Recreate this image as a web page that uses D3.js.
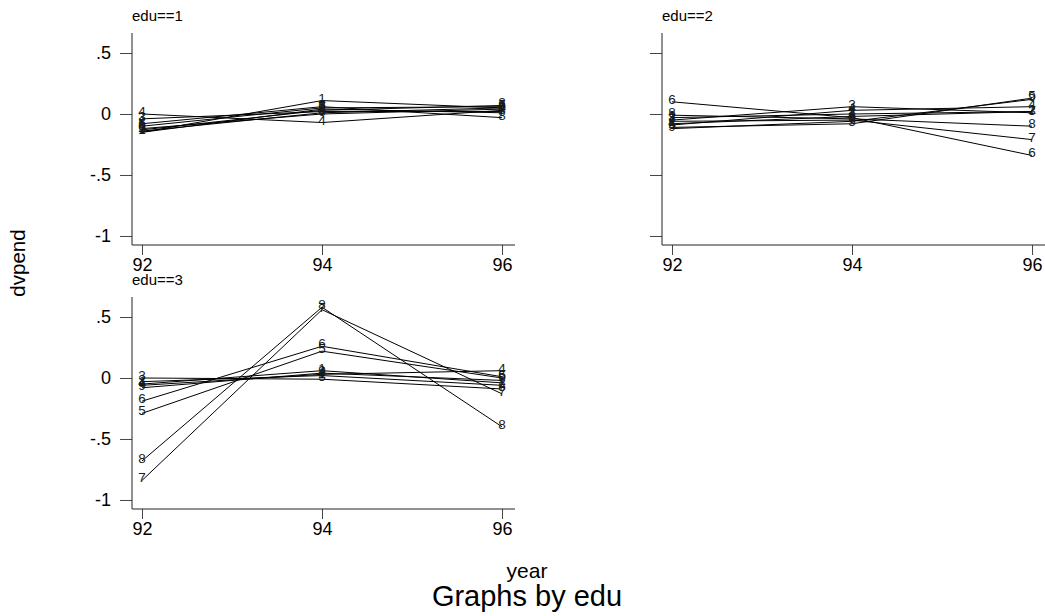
<!DOCTYPE html>
<html>
<head>
<meta charset="utf-8">
<script src="https://cdn.jsdelivr.net/npm/d3@7"></script>
<style>
  html, body { margin: 0; padding: 0; background: #fff; }
  svg { display: block; }
  text { font-family: "Liberation Sans", Arial, sans-serif; }
</style>
</head>
<body>
<svg id="chart" width="1045" height="616"></svg>
<script>
// Years on the x axis and the ids plotted as labelled lines
const years = [92, 94, 96];
const ids = [1, 2, 3, 4, 5, 6, 7, 8, 9];
const yTicks = [0.5, 0, -0.5, -1];
const yTickLabels = [".5", "0", "-.5", "-1"];
const xTicks = [92, 94, 96];

// dvpend by id for each education group (values at 92, 94, 96)
const edu1 = [
  [-0.15, 0.11, 0.05],
  [-0.13, 0.03, 0.07],
  [-0.04, 0.02, 0.02],
  [0.00, -0.07, 0.03],
  [-0.10, 0.05, 0.06],
  [-0.12, 0.00, 0.04],
  [-0.15, 0.04, 0.01],
  [-0.08, 0.06, -0.03],
  [-0.14, 0.01, 0.05]
];
const edu2 = [
  [-0.08, -0.02, 0.02],
  [-0.03, 0.00, 0.02],
  [-0.05, 0.06, 0.01],
  [-0.09, 0.03, 0.06],
  [-0.11, -0.08, 0.13],
  [0.10, -0.03, -0.34],
  [-0.06, -0.05, -0.21],
  [-0.01, -0.04, -0.10],
  [-0.12, -0.06, 0.12]
];
const edu3 = [
  [-0.05, 0.06, -0.04],
  [-0.03, 0.02, -0.06],
  [0.00, -0.01, -0.09],
  [-0.06, 0.03, 0.06],
  [-0.29, 0.22, 0.00],
  [-0.19, 0.26, 0.01],
  [-0.84, 0.56, -0.13],
  [-0.68, 0.58, -0.40],
  [-0.08, 0.04, -0.02]
];

const panels = [
  { title: "edu==1", data: edu1, left: 132, right: 515, top: 33, bottom: 245, yLabels: true },
  { title: "edu==2", data: edu2, left: 662, right: 1045, top: 33, bottom: 245, yLabels: false },
  { title: "edu==3", data: edu3, left: 132, right: 515, top: 297, bottom: 509, yLabels: true }
];

const svg = d3.select("#chart");
const axisColor = "#222";

panels.forEach(p => {
  const x = d3.scaleLinear().domain([91.889, 96.144]).range([p.left, p.right]);
  const y = d3.scaleLinear().domain([-1.074, 0.664]).range([p.bottom, p.top]);
  const g = svg.append("g");

  // panel title
  g.append("text")
    .attr("x", p.left)
    .attr("y", p.top - 12)
    .attr("font-size", 15)
    .attr("fill", "#000")
    .text(p.title);

  // y axis
  const yAxis = d3.axisLeft(y).tickValues(yTicks).tickSize(12).tickPadding(9)
    .tickFormat((d, i) => p.yLabels ? yTickLabels[i] : "");
  const ya = g.append("g").attr("transform", `translate(${p.left},0)`).call(yAxis);
  ya.select(".domain").remove();
  ya.selectAll(".tick line").attr("stroke", "#444");
  ya.selectAll(".tick text").attr("font-size", 18).attr("fill", "#000")
    .attr("font-family", "Liberation Sans, Arial, sans-serif");
  g.append("line")
    .attr("x1", p.left).attr("x2", p.left)
    .attr("y1", p.top).attr("y2", p.bottom)
    .attr("stroke", axisColor).attr("stroke-width", 1);

  // x axis
  const xAxis = d3.axisBottom(x).tickValues(xTicks).tickSize(10).tickPadding(3)
    .tickFormat(d3.format("d"));
  const xa = g.append("g").attr("transform", `translate(0,${p.bottom})`).call(xAxis);
  xa.select(".domain").remove();
  xa.selectAll(".tick line").attr("stroke", "#444");
  xa.selectAll(".tick text").attr("font-size", 18).attr("fill", "#000")
    .attr("font-family", "Liberation Sans, Arial, sans-serif");
  g.append("line")
    .attr("x1", p.left).attr("x2", p.right)
    .attr("y1", p.bottom).attr("y2", p.bottom)
    .attr("stroke", axisColor).attr("stroke-width", 1);

  // connected lines per id
  const line = d3.line().x((d, i) => x(years[i])).y(d => y(d));
  g.selectAll("path.series")
    .data(p.data)
    .join("path")
    .attr("class", "series")
    .attr("d", line)
    .attr("fill", "none")
    .attr("stroke", "#000")
    .attr("stroke-width", 1);

  // id labels at each point
  const pts = [];
  p.data.forEach((vals, k) => vals.forEach((v, i) => pts.push({ id: ids[k], yr: years[i], v })));
  g.selectAll("text.mlab")
    .data(pts)
    .join("text")
    .attr("class", "mlab")
    .attr("x", d => x(d.yr))
    .attr("y", d => y(d.v))
    .attr("dy", "0.15em")
    .attr("text-anchor", "middle")
    .attr("font-size", 13.5)
    .attr("fill", "#1a1a1a")
    .text(d => d.id);
});

// axis titles and note
svg.append("text")
  .attr("transform", "translate(25,263) rotate(-90)")
  .attr("text-anchor", "middle")
  .attr("font-size", 20.5)
  .text("dvpend");

svg.append("text")
  .attr("x", 527).attr("y", 578)
  .attr("text-anchor", "middle")
  .attr("font-size", 21)
  .text("year");

svg.append("text")
  .attr("x", 527).attr("y", 606)
  .attr("text-anchor", "middle")
  .attr("font-size", 29)
  .text("Graphs by edu");
</script>
</body>
</html>
